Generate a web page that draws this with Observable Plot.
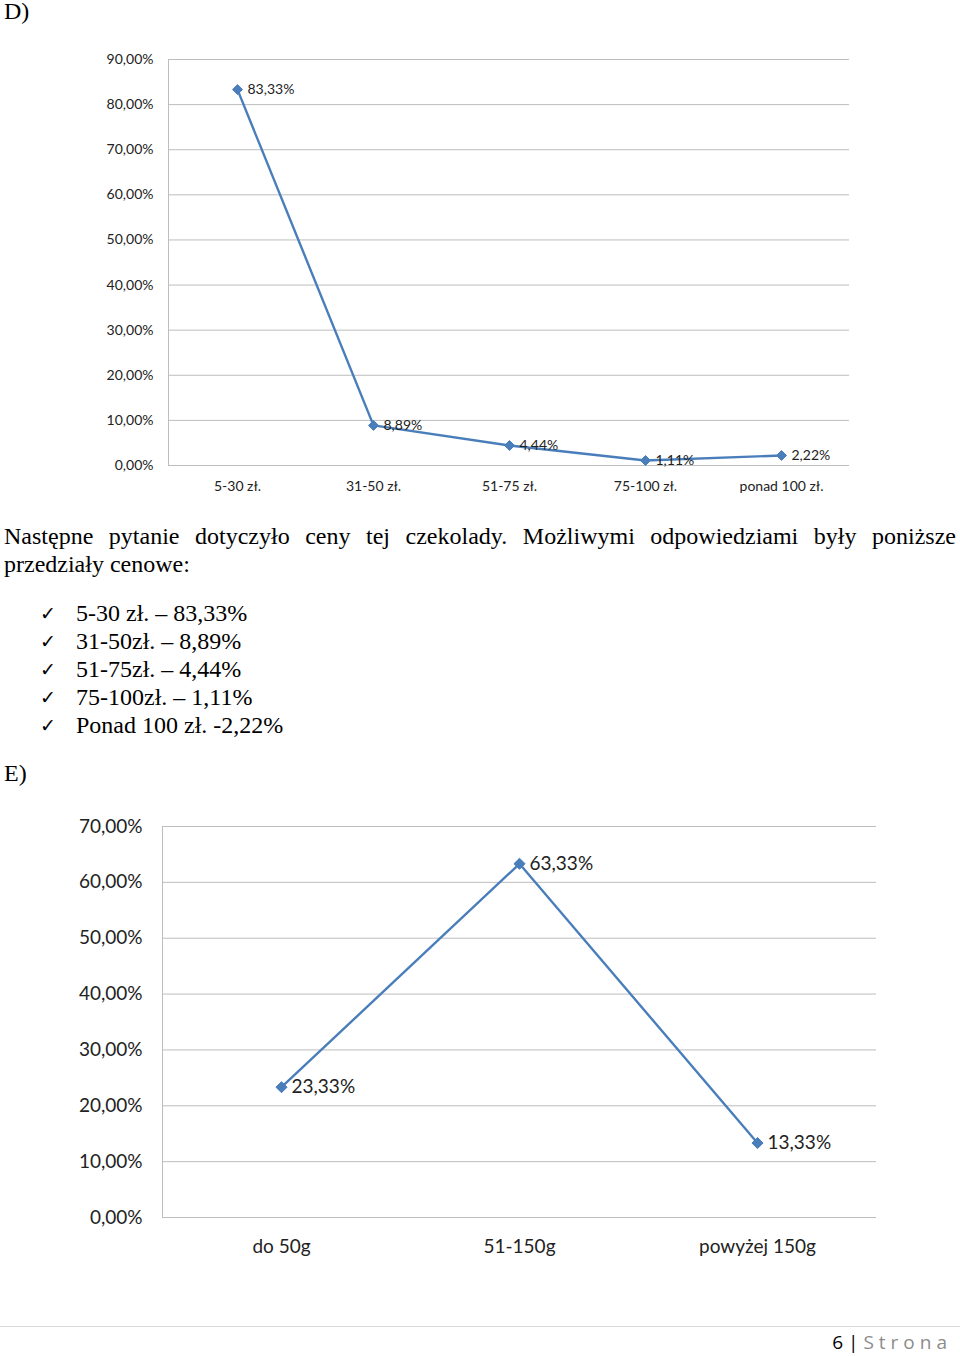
<!DOCTYPE html>
<html>
<head>
<meta charset="utf-8">
<script src="https://cdn.jsdelivr.net/npm/d3@7"></script>
<script src="https://cdn.jsdelivr.net/npm/@observablehq/plot@0.6"></script>
<style>
  html, body { margin: 0; padding: 0; background: #fff; }
  body { width: 960px; height: 1356px; position: relative; overflow: hidden; font-family: "Liberation Serif", "Times New Roman", serif; color: #000; }
  .abs { position: absolute; }
  .serif { font-family: "Liberation Serif", serif; font-size: 24px; line-height: 28px; }
  #para { left: 4px; top: 522px; width: 952px; text-align: justify; text-align-last: left; }
  #list { left: 40px; top: 599px; }
  #list div { position: relative; padding-left: 36px; }
  #list div span.chk { position: absolute; left: 0; top: 0; font-family: "DejaVu Sans", sans-serif; font-size: 19px; }
  #footer-line { left: 0; top: 1326px; width: 960px; height: 1px; background: #d9d9d9; }
  #footer { right: 8px; top: 1329px; font-family: "Open Sans", sans-serif; font-size: 19px; }
  #footer .g { color: #8c8c8c; letter-spacing: 5px; }
</style>
</head>
<body>
<div class="abs serif" style="left:4px; top:-3px;">D)</div>
<div id="chartD" class="abs" style="left:0; top:40px;"></div>
<div id="para" class="abs serif">Następne pytanie dotyczyło ceny tej czekolady. Możliwymi odpowiedziami były poniższe przedziały cenowe:</div>
<div id="list" class="abs serif"></div>
<div class="abs serif" style="left:4px; top:759px;">E)</div>
<div id="chartE" class="abs" style="left:0; top:800px;"></div>
<div id="footer-line" class="abs"></div>
<div id="footer" class="abs">6 | <span class="g">Strona</span></div>
<script>
// Chart D data
const catsD = ["5-30 zł.", "31-50 zł.", "51-75 zł.", "75-100 zł.", "ponad 100 zł."];
const valsD = [83.33, 8.89, 4.44, 1.11, 2.22];
const ticksD = [0, 10, 20, 30, 40, 50, 60, 70, 80, 90];

// Chart E data
const catsE = ["do 50g", "51-150g", "powyżej 150g"];
const valsE = [23.33, 63.33, 13.33];
const ticksE = [0, 10, 20, 30, 40, 50, 60, 70];

// List text
const listItems = ["5-30 zł. – 83,33%", "31-50zł. – 8,89%", "51-75zł. – 4,44%", "75-100zł. – 1,11%", "Ponad 100 zł. -2,22%"];

const fmt = d => d.toFixed(2).replace(".", ",") + "%";
const blue = "#4a7ebb";
const grid = "#bdbdbd";

const dataD = catsD.map((c, i) => ({cat: c, v: valsD[i]}));
const dataE = catsE.map((c, i) => ({cat: c, v: valsE[i]}));

function makeChart(data, cats, ticks, o) {
  const svg = Plot.plot({
    width: 960,
    height: o.height,
    marginLeft: o.ml, marginRight: o.mr, marginTop: o.mt, marginBottom: o.mb,
    style: {fontFamily: "Lato, 'Open Sans', sans-serif", fontSize: o.fs + "px", color: "#222", background: "white"},
    x: {type: "point", domain: cats, padding: 0.5, axis: null, label: null},
    y: {domain: [0, ticks[ticks.length - 1]], axis: null, label: null},
    marks: [
      Plot.ruleY(ticks, {stroke: grid, strokeWidth: 1}),
      Plot.axisY({ticks: ticks, tickSize: 0, tickPadding: o.tp, tickFormat: fmt, fontSize: o.fs, fill: "#222", label: null}),
      Plot.axisX({tickSize: 0, tickPadding: o.xtp, fontSize: o.fs, fill: "#222", label: null}),
      Plot.line(data, {x: "cat", y: "v", stroke: blue, strokeWidth: o.sw}),
      Plot.dot(data, {x: "cat", y: "v", symbol: "diamond2", fill: blue, stroke: blue, strokeWidth: 1, r: o.r}),
      Plot.text(data, {x: "cat", y: "v", text: d => fmt(d.v), textAnchor: "start", dx: o.dx, fontSize: o.fs, fill: "#222"})
    ]
  });
  // left frame line, placed from the library's own scales
  const xs = svg.scale("x"), ys = svg.scale("y");
  const x0 = Math.min(...xs.range);
  const line = document.createElementNS("http://www.w3.org/2000/svg", "line");
  line.setAttribute("x1", x0 + 0.5); line.setAttribute("x2", x0 + 0.5);
  line.setAttribute("y1", ys.apply(ticks[0])); line.setAttribute("y2", ys.apply(ticks[ticks.length - 1]));
  line.setAttribute("stroke", grid);
  svg.insertBefore(line, svg.children[2] || null);
  return svg;
}

const chartD = makeChart(dataD, catsD, ticksD, {height: 465, ml: 168, mr: 111, mt: 19, mb: 40, fs: 14, tp: 15, xtp: 16, sw: 2.4, r: 4.5, dx: 10});
const chartE = makeChart(dataE, catsE, ticksE, {height: 467, ml: 162, mr: 84, mt: 26, mb: 50, fs: 19, tp: 20, xtp: 22, sw: 2.4, r: 5, dx: 10});
document.getElementById("chartD").appendChild(chartD);
document.getElementById("chartE").appendChild(chartE);

const list = document.getElementById("list");
for (const t of listItems) {
  const d = document.createElement("div");
  d.innerHTML = '<span class="chk">✓</span>' + t;
  list.appendChild(d);
}
</script>
</body>
</html>
